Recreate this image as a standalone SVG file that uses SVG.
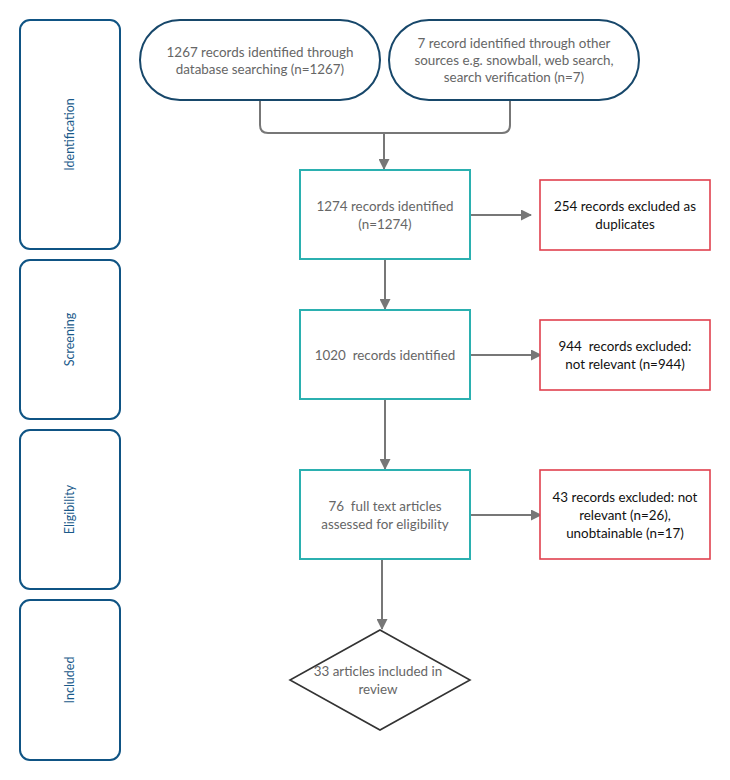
<svg xmlns="http://www.w3.org/2000/svg" width="730" height="780" viewBox="0 0 730 780">
<style>
.phase{fill:#fff;stroke:#0f5484;stroke-width:2}
.phase-t{font-family:Lato,"Liberation Sans",sans-serif;font-size:12.5px;fill:#1a5a8a;text-anchor:middle}
.pill{fill:#fff;stroke:#17476a;stroke-width:2}
.box{fill:#fff;stroke:#2bb0b0;stroke-width:2}
.excl{fill:#fff;stroke:#e0404e;stroke-width:1.6}
.dia{fill:#fff;stroke:#333;stroke-width:1.6}
.t{font-family:Lato,"Liberation Sans",sans-serif;font-size:13.4px;fill:#666;text-anchor:middle;white-space:pre}
.tk{font-family:Lato,"Liberation Sans",sans-serif;font-size:13.4px;fill:#111;text-anchor:middle;white-space:pre}
.c{fill:none;stroke:#777;stroke-width:2}
</style>
<defs>
<marker id="ah" markerWidth="11" markerHeight="11" refX="10" refY="5.5" orient="auto" markerUnits="userSpaceOnUse" viewBox="0 0 11 11">
<path d="M0,0 L11,5.5 L0,11 z" fill="#777"/>
</marker>
</defs>
<rect width="730" height="780" fill="#fff"/>
<g id="phase-identification"><rect class="phase" x="20" y="20" width="100" height="229" rx="10"/><text class="phase-t" transform="translate(74,134.5) rotate(-90)">Identification</text></g>
<g id="phase-screening"><rect class="phase" x="20" y="260" width="100" height="159" rx="10"/><text class="phase-t" transform="translate(74,339.5) rotate(-90)">Screening</text></g>
<g id="phase-eligibility"><rect class="phase" x="20" y="430" width="100" height="159" rx="10"/><text class="phase-t" transform="translate(74,509.5) rotate(-90)">Eligibility</text></g>
<g id="phase-included"><rect class="phase" x="20" y="600" width="100" height="160" rx="10"/><text class="phase-t" transform="translate(74,680) rotate(-90)">Included</text></g>

<g id="connectors">
<path class="c" d="M260,100 V125 Q260,133 268,133 H502 Q510,133 510,125 V100"/>
<path class="c" d="M384,133 V169" marker-end="url(#ah)"/>
<path class="c" d="M470,215 H531" marker-end="url(#ah)"/>
<path class="c" d="M385,260 V309" marker-end="url(#ah)"/>
<path class="c" d="M470,355 H541" marker-end="url(#ah)"/>
<path class="c" d="M385,400 V469" marker-end="url(#ah)"/>
<path class="c" d="M470,515 H541" marker-end="url(#ah)"/>
<path class="c" d="M382,560 V629" marker-end="url(#ah)"/>
</g>

<g id="n-db"><rect class="pill" x="140" y="20" width="240" height="80" rx="40"/><text class="t" x="260" y="57">1267 records identified through</text><text class="t" x="260" y="74">database searching (n=1267)</text></g>
<g id="n-other"><rect class="pill" x="389" y="20" width="250" height="80" rx="40"/><text class="t" x="514" y="48">7 record identified through other</text><text class="t" x="514" y="65">sources e.g. snowball, web search,</text><text class="t" x="514" y="82">search verification (n=7)</text></g>

<g id="n-1274"><rect class="box" x="300" y="170" width="170" height="89"/><text class="t" x="385" y="211">1274 records identified</text><text class="t" x="385" y="229">(n=1274)</text></g>
<g id="n-dup"><rect class="excl" x="540" y="180" width="170" height="70"/><text class="tk" x="625" y="211">254 records excluded as</text><text class="tk" x="625" y="229">duplicates</text></g>

<g id="n-1020"><rect class="box" x="300" y="310" width="170" height="89"/><text class="t" x="385" y="360" xml:space="preserve">1020  records identified</text></g>
<g id="n-944"><rect class="excl" x="540" y="320" width="170" height="70"/><text class="tk" x="625" y="351" xml:space="preserve">944  records excluded:</text><text class="tk" x="625" y="369">not relevant (n=944)</text></g>

<g id="n-76"><rect class="box" x="300" y="470" width="170" height="89"/><text class="t" x="385" y="511" xml:space="preserve">76  full text articles</text><text class="t" x="385" y="529">assessed for eligibility</text></g>
<g id="n-43"><rect class="excl" x="540" y="470" width="170" height="89"/><text class="tk" x="625" y="502">43 records excluded: not</text><text class="tk" x="625" y="520">relevant (n=26),</text><text class="tk" x="625" y="538">unobtainable (n=17)</text></g>

<g id="n-33"><polygon class="dia" points="380,630 470,680 380,730 290,680"/><text class="t" x="378" y="676">33 articles included in</text><text class="t" x="378" y="694">review</text></g>
</svg>
